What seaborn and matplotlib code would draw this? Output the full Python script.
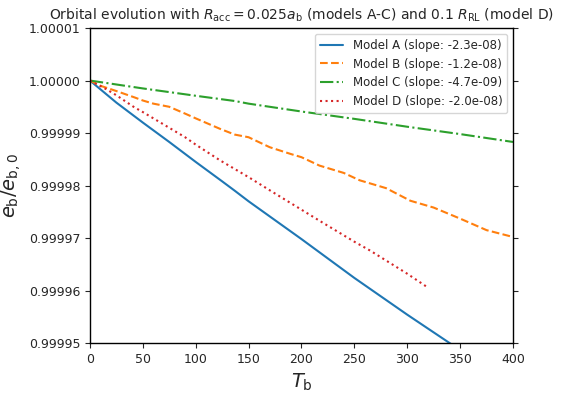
import numpy as np
import pandas as pd
import matplotlib
matplotlib.use("Agg")
import matplotlib.pyplot as plt
import seaborn as sns
from matplotlib.ticker import FormatStrFormatter

# time samples and drop in e_b/e_b0 (in units of 1e-5)
t_a = [0, 25, 50, 75, 100, 125, 137, 150, 200, 250, 265, 300, 340, 400]
drop_a = [0, 0.42, 0.80, 1.17, 1.55, 1.92, 2.10, 2.30, 3.02, 3.76, 3.97, 4.46, 5.0, 5.8]

t_b = [0, 10, 25, 42, 50, 60, 75, 90, 100, 123, 137, 150, 170, 190, 200, 217, 240,
       255, 265, 280, 303, 325, 350, 375, 400]
drop_b = [0, 0.10, 0.20, 0.32, 0.38, 0.44, 0.50, 0.63, 0.72, 0.92, 1.03, 1.08, 1.27,
          1.40, 1.46, 1.62, 1.76, 1.90, 1.96, 2.05, 2.29, 2.42, 2.63, 2.85, 2.98]

t_c = [0, 50, 100, 137, 150, 200, 250, 300, 350, 400]
drop_c = [0, 0.15, 0.29, 0.39, 0.44, 0.59, 0.73, 0.88, 1.02, 1.17]

t_d = [0, 15, 25, 42, 50, 75, 90, 100, 123, 150, 170, 200, 217, 250, 265, 300, 320]
drop_d = [0, 0.16, 0.28, 0.51, 0.60, 0.90, 1.08, 1.22, 1.52, 1.84, 2.09, 2.46, 2.67,
          3.07, 3.24, 3.68, 3.95]

labels = ["Model A (slope: -2.3e-08)", "Model B (slope: -1.2e-08)",
          "Model C (slope: -4.7e-09)", "Model D (slope: -2.0e-08)"]

series = [(t_a, drop_a), (t_b, drop_b), (t_c, drop_c), (t_d, drop_d)]
styles = ["-", "--", "-.", ":"]
colors = sns.color_palette("tab10", 4)

sns.set_style("ticks")
fig, ax = plt.subplots(figsize=(5.69, 3.95), dpi=100)
fig.subplots_adjust(left=0.158, right=0.9016, bottom=0.1316, top=0.929)

for (t, d), lab, ls, c in zip(series, labels, styles, colors):
    df = pd.DataFrame({"T": t, "e": 1 - np.array(d) * 1e-5})
    sns.lineplot(data=df, x="T", y="e", ax=ax, label=lab, color=c,
                 linestyle=ls, linewidth=1.5)

ax.set_xlim(0, 400)
ax.set_ylim(0.99995, 1.00001)
ax.yaxis.set_major_formatter(FormatStrFormatter("%.5f"))
ax.tick_params(axis="y", right=True, labelsize=9)
ax.tick_params(axis="x", labelsize=9)
for s in ax.spines.values():
    s.set_linewidth(1.0)
    s.set_color("black")

ax.set_xlabel(r"$T_{\rm b}$", fontsize=14)
ax.set_ylabel(r"$e_{\rm b}/e_{\rm b,0}$", fontsize=14)
ax.set_title(r"Orbital evolution with $R_{\rm acc}=0.025a_{\rm b}$ (models A-C) and 0.1 $R_{\rm RL}$ (model D)",
             fontsize=10)
ax.legend(loc="upper right", fontsize=8.5)

fig.savefig("out.png", dpi=100)
